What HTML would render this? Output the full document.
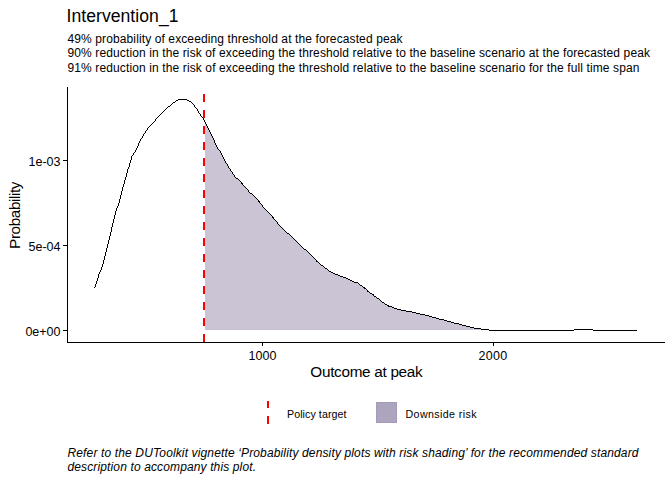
<!DOCTYPE html>
<html><head><meta charset="utf-8"><style>
html,body{margin:0;padding:0;background:#fff;}
svg{display:block;}
text{font-family:"Liberation Sans",sans-serif;fill:#000;}
</style></head><body>
<svg width="672" height="480" viewBox="0 0 672 480">
<rect width="672" height="480" fill="#fff"/>
<text x="66.5" y="22" font-size="17.6" textLength="112" lengthAdjust="spacing">Intervention_1</text>
<text x="67.5" y="43" font-size="12" textLength="335" lengthAdjust="spacing">49% probability of exceeding threshold at the forecasted peak</text>
<text x="67.5" y="57.3" font-size="12" textLength="582.5" lengthAdjust="spacing">90% reduction in the risk of exceeding the threshold relative to the baseline scenario at the forecasted peak</text>
<text x="67.5" y="71.6" font-size="12" textLength="572" lengthAdjust="spacing">91% reduction in the risk of exceeding the threshold relative to the baseline scenario for the full time span</text>
<polygon points="205.0,123.0 206.5,126.0 209.0,130.0 211.0,134.0 213.0,138.0 214.5,141.0 216.0,144.0 217.5,147.0 220.5,151.6 222.0,155.2 224.2,159.4 226.2,163.5 228.3,167.2 230.4,170.3 232.5,173.4 235.1,177.1 237.7,178.6 239.3,180.7 241.9,183.3 245.0,187.0 248.1,190.6 251.2,193.8 254.4,196.4 255.5,197.1 259.2,201.8 263.3,207.0 267.5,211.7 271.1,215.3 273.2,217.9 276.9,222.1 281.0,226.2 285.2,230.4 288.3,233.5 292.5,237.2 296.7,240.8 298.5,243.3 301.8,247.0 305.5,249.8 309.2,253.6 313.0,257.3 316.8,261.1 320.5,264.4 324.2,267.2 328.0,270.0 330.8,271.9 335.5,274.2 339.2,275.6 343.0,277.0 346.8,278.4 350.5,280.3 354.2,282.2 355.0,282.5 357.6,282.6 359.5,284.4 362.5,286.2 364.7,288.1 367.7,291.1 370.7,293.4 373.0,294.5 375.2,296.7 378.2,298.6 380.5,300.5 382.7,302.4 385.7,304.2 388.7,306.1 391.7,306.9 394.7,308.4 397.7,309.1 403.3,310.5 408.8,311.5 414.0,312.5 418.0,313.5 422.5,314.5 427.0,315.5 430.5,316.5 434.0,317.5 437.5,318.5 441.4,319.5 445.4,320.5 449.0,321.5 452.5,322.5 456.3,323.5 460.5,324.5 464.0,325.5 468.0,326.5 472.0,327.5 477.5,328.5 485.0,329.5 489.5,330.5 573.9,330.5 574.5,329.5 592.5,329.5 593.0,330.5 636.9,330.5 636.9,330 205.0,330" fill="#CAC4D4" stroke="none"/>
<path d="M178 99h9v1h-9zM176 100h2v1h-2zM187 100h2v1h-2zM175 101h1v1h-1zM189 101h2v1h-2zM173 102h2v1h-2zM191 102h1v1h-1zM172 103h1v1h-1zM192 103h1v1h-1zM171 104h1v1h-1zM193 104h1v1h-1zM170 105h1v1h-1zM194 105h1v1h-1zM168 106h2v1h-2zM194 106h1v1h-1zM167 107h1v1h-1zM195 107h1v1h-1zM166 108h1v1h-1zM196 108h1v1h-1zM165 109h1v1h-1zM197 109h1v1h-1zM164 110h1v1h-1zM197 110h1v1h-1zM163 111h1v1h-1zM198 111h1v1h-1zM162 112h1v1h-1zM198 112h1v1h-1zM161 113h1v1h-1zM199 113h1v1h-1zM160 114h1v1h-1zM200 114h1v1h-1zM159 115h1v1h-1zM200 115h1v1h-1zM158 116h1v1h-1zM201 116h1v1h-1zM157 117h1v1h-1zM202 117h1v1h-1zM156 118h1v1h-1zM203 118h1v1h-1zM155 119h1v1h-1zM203 119h1v1h-1zM155 120h1v1h-1zM204 120h1v1h-1zM154 121h1v1h-1zM204 121h1v1h-1zM153 122h1v1h-1zM205 122h1v1h-1zM152 123h1v1h-1zM205 123h1v1h-1zM151 124h1v1h-1zM206 124h1v1h-1zM150 125h1v1h-1zM206 125h1v1h-1zM149 126h1v1h-1zM207 126h1v1h-1zM148 127h1v1h-1zM207 127h1v1h-1zM147 128h1v1h-1zM208 128h1v1h-1zM147 129h1v1h-1zM208 129h1v1h-1zM146 130h1v1h-1zM209 130h1v1h-1zM145 131h1v1h-1zM209 131h1v1h-1zM145 132h1v1h-1zM210 132h1v1h-1zM144 133h1v1h-1zM210 133h1v1h-1zM143 134h1v1h-1zM211 134h1v1h-1zM143 135h1v1h-1zM211 135h1v1h-1zM142 136h1v1h-1zM212 136h1v1h-1zM142 137h1v1h-1zM212 137h1v1h-1zM141 138h1v1h-1zM213 138h1v1h-1zM140 139h1v1h-1zM213 139h1v1h-1zM140 140h1v1h-1zM214 140h1v1h-1zM139 141h1v1h-1zM214 141h1v1h-1zM139 142h1v1h-1zM214 142h1v1h-1zM138 143h1v1h-1zM215 143h1v1h-1zM138 144h1v1h-1zM215 144h1v1h-1zM138 145h1v1h-1zM216 145h1v1h-1zM137 146h1v1h-1zM216 146h1v1h-1zM137 147h1v1h-1zM217 147h1v1h-1zM136 148h1v1h-1zM217 148h1v1h-1zM136 149h1v1h-1zM218 149h1v1h-1zM135 150h1v1h-1zM219 150h1v1h-1zM135 151h1v1h-1zM220 151h1v1h-1zM134 152h1v1h-1zM220 152h1v1h-1zM133 153h1v1h-1zM221 153h1v1h-1zM133 154h1v1h-1zM221 154h1v1h-1zM132 155h1v1h-1zM222 155h1v1h-1zM131 156h1v1h-1zM222 156h1v1h-1zM131 157h1v1h-1zM223 157h1v1h-1zM131 158h1v1h-1zM223 158h1v1h-1zM131 159h1v1h-1zM224 159h1v1h-1zM130 160h1v1h-1zM224 160h1v1h-1zM130 161h1v1h-1zM225 161h1v1h-1zM130 162h1v1h-1zM225 162h1v1h-1zM129 163h1v1h-1zM226 163h1v1h-1zM129 164h1v1h-1zM227 164h1v1h-1zM129 165h1v1h-1zM227 165h1v1h-1zM129 166h1v1h-1zM228 166h1v1h-1zM128 167h1v1h-1zM228 167h1v1h-1zM128 168h1v1h-1zM229 168h1v1h-1zM127 169h1v1h-1zM230 169h1v1h-1zM127 170h1v1h-1zM230 170h1v1h-1zM127 171h1v1h-1zM231 171h1v1h-1zM127 172h1v1h-1zM232 172h1v1h-1zM126 173h1v1h-1zM232 173h1v1h-1zM126 174h1v1h-1zM233 174h1v1h-1zM126 175h1v1h-1zM234 175h1v1h-1zM126 176h1v1h-1zM234 176h1v1h-1zM125 177h1v1h-1zM235 177h1v1h-1zM125 178h1v1h-1zM236 178h2v1h-2zM125 179h1v1h-1zM238 179h1v1h-1zM124 180h1v1h-1zM239 180h1v1h-1zM124 181h1v1h-1zM240 181h1v1h-1zM124 182h1v1h-1zM241 182h1v1h-1zM124 183h1v1h-1zM241 183h2v1h-2zM123 184h1v1h-1zM242 184h1v1h-1zM123 185h1v1h-1zM243 185h1v1h-1zM123 186h1v1h-1zM244 186h1v1h-1zM122 187h1v1h-1zM245 187h1v1h-1zM122 188h1v1h-1zM246 188h1v1h-1zM122 189h1v1h-1zM247 189h1v1h-1zM122 190h1v1h-1zM248 190h1v1h-1zM121 191h1v1h-1zM248 191h1v1h-1zM121 192h1v1h-1zM249 192h1v1h-1zM121 193h1v1h-1zM250 193h2v1h-2zM121 194h1v1h-1zM252 194h1v1h-1zM120 195h1v1h-1zM253 195h1v1h-1zM120 196h1v1h-1zM254 196h1v1h-1zM120 197h1v1h-1zM255 197h1v1h-1zM120 198h1v1h-1zM256 198h1v1h-1zM119 199h1v1h-1zM257 199h1v1h-1zM119 200h1v1h-1zM258 200h1v1h-1zM119 201h1v1h-1zM258 201h2v1h-2zM119 202h1v1h-1zM259 202h1v1h-1zM118 203h1v1h-1zM260 203h1v1h-1zM118 204h1v1h-1zM261 204h1v1h-1zM118 205h1v1h-1zM262 205h1v1h-1zM117 206h1v1h-1zM262 206h1v1h-1zM117 207h1v1h-1zM263 207h1v1h-1zM116 208h1v1h-1zM264 208h1v1h-1zM116 209h1v1h-1zM265 209h1v1h-1zM116 210h1v1h-1zM266 210h1v1h-1zM115 211h1v1h-1zM267 211h1v1h-1zM115 212h1v1h-1zM268 212h1v1h-1zM115 213h1v1h-1zM269 213h1v1h-1zM115 214h1v1h-1zM270 214h1v1h-1zM114 215h1v1h-1zM271 215h1v1h-1zM114 216h1v1h-1zM272 216h1v1h-1zM114 217h1v1h-1zM272 217h2v1h-2zM114 218h1v1h-1zM273 218h1v1h-1zM113 219h1v1h-1zM274 219h1v1h-1zM113 220h1v1h-1zM275 220h1v1h-1zM113 221h1v1h-1zM276 221h1v1h-1zM113 222h1v1h-1zM277 222h1v1h-1zM112 223h1v1h-1zM277 223h1v1h-1zM112 224h1v1h-1zM278 224h1v1h-1zM112 225h1v1h-1zM279 225h1v1h-1zM112 226h1v1h-1zM280 226h1v1h-1zM111 227h1v1h-1zM281 227h1v1h-1zM111 228h1v1h-1zM282 228h1v1h-1zM111 229h1v1h-1zM283 229h1v1h-1zM111 230h1v1h-1zM284 230h1v1h-1zM111 231h1v1h-1zM285 231h1v1h-1zM110 232h1v1h-1zM286 232h1v1h-1zM110 233h1v1h-1zM287 233h2v1h-2zM110 234h1v1h-1zM289 234h1v1h-1zM110 235h1v1h-1zM290 235h1v1h-1zM109 236h1v1h-1zM291 236h1v1h-1zM109 237h1v1h-1zM292 237h1v1h-1zM109 238h1v1h-1zM293 238h1v1h-1zM109 239h1v1h-1zM294 239h1v1h-1zM108 240h1v1h-1zM295 240h1v1h-1zM108 241h1v1h-1zM296 241h1v1h-1zM108 242h1v1h-1zM297 242h1v1h-1zM108 243h1v1h-1zM298 243h1v1h-1zM107 244h1v1h-1zM299 244h1v1h-1zM107 245h1v1h-1zM300 245h1v1h-1zM107 246h1v1h-1zM301 246h1v1h-1zM107 247h1v1h-1zM302 247h1v1h-1zM106 248h1v1h-1zM303 248h1v1h-1zM106 249h1v1h-1zM304 249h2v1h-2zM106 250h1v1h-1zM306 250h1v1h-1zM106 251h1v1h-1zM307 251h1v1h-1zM105 252h1v1h-1zM308 252h1v1h-1zM105 253h1v1h-1zM309 253h1v1h-1zM105 254h1v1h-1zM310 254h1v1h-1zM105 255h1v1h-1zM311 255h1v1h-1zM104 256h1v1h-1zM312 256h1v1h-1zM104 257h1v1h-1zM313 257h1v1h-1zM104 258h1v1h-1zM314 258h1v1h-1zM104 259h1v1h-1zM315 259h1v1h-1zM103 260h1v1h-1zM316 260h1v1h-1zM103 261h1v1h-1zM316 261h2v1h-2zM103 262h1v1h-1zM318 262h1v1h-1zM103 263h1v1h-1zM319 263h1v1h-1zM102 264h1v1h-1zM320 264h1v1h-1zM102 265h1v1h-1zM321 265h2v1h-2zM102 266h1v1h-1zM323 266h1v1h-1zM101 267h1v1h-1zM324 267h1v1h-1zM101 268h1v1h-1zM325 268h2v1h-2zM101 269h1v1h-1zM327 269h1v1h-1zM100 270h1v1h-1zM328 270h1v1h-1zM100 271h1v1h-1zM329 271h2v1h-2zM99 272h1v1h-1zM331 272h2v1h-2zM99 273h1v1h-1zM333 273h2v1h-2zM98 274h1v1h-1zM335 274h3v1h-3zM98 275h1v1h-1zM338 275h2v1h-2zM98 276h1v1h-1zM340 276h3v1h-3zM98 277h1v1h-1zM343 277h3v1h-3zM97 278h1v1h-1zM346 278h2v1h-2zM97 279h1v1h-1zM348 279h2v1h-2zM97 280h1v1h-1zM350 280h2v1h-2zM96 281h1v1h-1zM352 281h2v1h-2zM96 282h1v1h-1zM354 282h4v1h-4zM96 283h1v1h-1zM358 283h1v1h-1zM95 284h1v1h-1zM359 284h1v1h-1zM95 285h1v1h-1zM360 285h2v1h-2zM95 286h1v1h-1zM362 286h1v1h-1zM94 287h1v1h-1zM363 287h2v1h-2zM364 288h2v1h-2zM366 289h1v1h-1zM367 290h1v1h-1zM367 291h2v1h-2zM369 292h1v1h-1zM370 293h2v1h-2zM372 294h2v1h-2zM373 295h1v1h-1zM374 296h2v1h-2zM376 297h1v1h-1zM377 298h2v1h-2zM379 299h1v1h-1zM380 300h1v1h-1zM381 301h1v1h-1zM382 302h2v1h-2zM384 303h1v1h-1zM385 304h2v1h-2zM387 305h2v1h-2zM388 306h4v1h-4zM392 307h2v1h-2zM394 308h3v1h-3zM397 309h4v1h-4zM401 310h5v1h-5zM406 311h6v1h-6zM412 312h4v1h-4zM416 313h4v1h-4zM420 314h5v1h-5zM425 315h4v1h-4zM429 316h3v1h-3zM432 317h4v1h-4zM436 318h3v1h-3zM439 319h5v1h-5zM444 320h3v1h-3zM447 321h4v1h-4zM451 322h3v1h-3zM454 323h5v1h-5zM459 324h3v1h-3zM462 325h4v1h-4zM466 326h4v1h-4zM470 327h4v1h-4zM474 328h7v1h-7zM481 329h8v1h-8zM574 329h19v1h-19zM489 330h85v1h-85zM593 330h44v1h-44z" fill="#000" shape-rendering="crispEdges"/>
<line x1="204" y1="342" x2="204" y2="87" stroke="#ff0000" stroke-width="2" stroke-dasharray="8 8"/>
<g stroke="#000" stroke-width="1" fill="none" shape-rendering="crispEdges">
<path d="M67.5,87 V342.5 H665"/>
<path d="M63,160.5 H67.5 M63,245.5 H67.5 M63,330.5 H67.5"/>
<path d="M262.5,342.5 V346 M493.5,342.5 V346"/>
</g>
<g font-size="12.5" text-anchor="end">
<text x="60.5" y="166">1e-03</text>
<text x="60.5" y="251">5e-04</text>
<text x="60.5" y="336">0e+00</text>
</g>
<g font-size="12.5" text-anchor="middle">
<text x="262.5" y="360">1000</text>
<text x="492.9" y="360" textLength="28.8" lengthAdjust="spacing">2000</text>
</g>
<text x="366.5" y="377" font-size="15.3" text-anchor="middle" textLength="112.4" lengthAdjust="spacing">Outcome at peak</text>
<text transform="translate(20.2,215.2) rotate(-90)" font-size="15.3" text-anchor="middle" textLength="67.4" lengthAdjust="spacing">Probability</text>
<line x1="268" y1="424" x2="268" y2="401" stroke="#ff0000" stroke-width="2" stroke-dasharray="8 8"/>
<text x="287" y="417.7" font-size="10.67" textLength="59.5" lengthAdjust="spacing">Policy target</text>
<rect x="376.5" y="402.5" width="20" height="20" fill="#ADA5BE" stroke="#A59BB8" stroke-width="1"/>
<text x="405.5" y="417.7" font-size="10.67" textLength="71" lengthAdjust="spacing">Downside risk</text>
<g font-size="12" font-style="italic">
<text x="67.5" y="456.5" textLength="571" lengthAdjust="spacing">Refer to the DUToolkit vignette ‘Probability density plots with risk shading’ for the recommended standard</text>
<text x="67.5" y="470.7" textLength="188.5" lengthAdjust="spacing">description to accompany this plot.</text>
</g>
</svg>
</body></html>
